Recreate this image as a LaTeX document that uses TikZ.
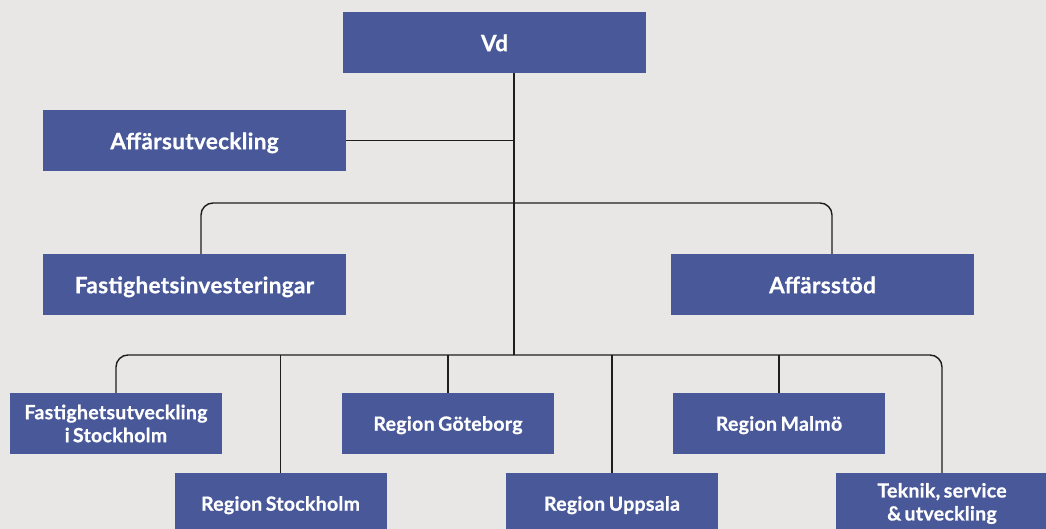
\documentclass[tikz,border=0pt]{standalone}
\usepackage{fontspec}
\setmainfont{Lato}[WordSpace=0.7,LetterSpace=1.5,BoldFeatures={FakeBold=0.8}]
\definecolor{boxblue}{RGB}{72,88,152}
\definecolor{bgc}{RGB}{232,231,229}
\definecolor{linec}{RGB}{30,30,30}
\begin{document}
\begin{tikzpicture}[x=1pt,y=-1pt,
  org/.style={rectangle,fill=boxblue,text=white,inner sep=0pt,align=center,
    font=\bfseries\fontsize{22.5}{25}\selectfont,minimum height=61pt},
  big/.style={org,minimum width=303pt,text height=17.4pt,text depth=0pt},
  smallbox/.style={org,minimum width=212pt,font=\bfseries\fontsize{19.5}{23}\selectfont},
  sm1/.style={smallbox,text height=14.4pt,text depth=0pt},
  conn/.style={draw=linec,line width=1.4pt}]
\useasboundingbox[fill=bgc] (0,0) rectangle (1046,529);
\node[big] (vd) at (494.5,42.5) {Vd};
\node[big] (au) at (194.5,140.5) {Affärsutveckling};
\node[big] (fi) at (194.5,284.5) {Fastighetsinvesteringar};
\node[big] (as) at (822.5,284.5) {Affärsstöd};
\node[smallbox] (fs) at (116,423.5) {Fastighetsutveckling\\i\,Stockholm};
\node[sm1] (rg) at (448,423.5) {Region Göteborg};
\node[sm1] (rm) at (779,423.5) {Region Malmö};
\node[sm1] (rs) at (280.5,503.5) {Region Stockholm};
\node[sm1] (ru) at (612,503.5) {Region Uppsala};
\node[smallbox] (tk) at (942,503.5) {Teknik, service\\\&\,utveckling};
\coordinate (t1) at (514,355);
\coordinate (t2) at (514,203);
\coordinate (cl) at (201,0);
\coordinate (cr) at (832,0);
\draw[conn] (vd.south -| t1) -- (t1);
\draw[conn] (au.east) -- (au.east -| t1);
\draw[conn,rounded corners=12pt] (fi.north -| cl) |- (t2) -| (as.north -| cr);
\draw[conn,rounded corners=12pt] (fs.north) |- (t1) -| (tk.north);
\draw[conn] (rs.north) -- (rs.north |- t1);
\draw[conn] (rg.north) -- (rg.north |- t1);
\draw[conn] (ru.north) -- (ru.north |- t1);
\draw[conn] (rm.north) -- (rm.north |- t1);
\end{tikzpicture}
\end{document}
